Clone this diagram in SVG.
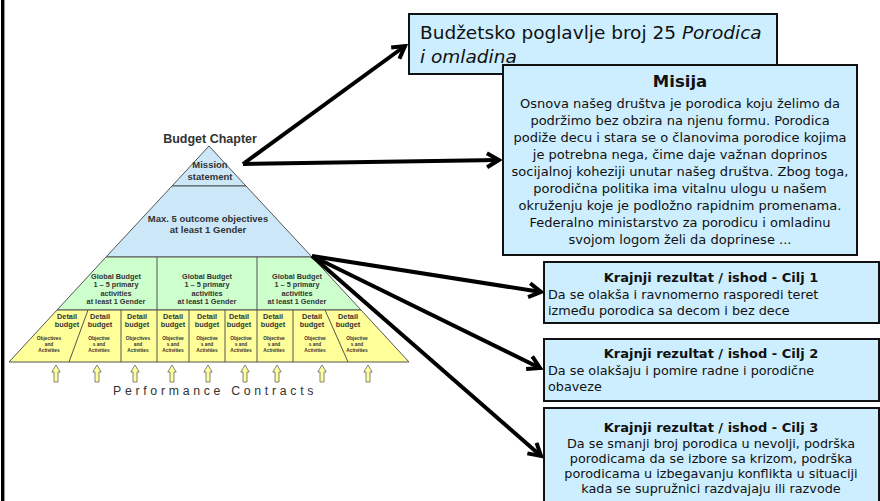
<svg xmlns="http://www.w3.org/2000/svg" xmlns:xlink="http://www.w3.org/1999/xlink" width="880" height="501" viewBox="0 0 880 501">
<style>
.pl{stroke:#555;stroke-width:1;stroke-linejoin:round}
.pt{font-family:"Liberation Sans",Arial,sans-serif;font-weight:bold;fill:#333;text-anchor:middle}
.t95{font-size:9.5px}
.t72{font-size:7.3px}
.t5{font-size:4.8px}
.box{fill:#CCEEFF;stroke:#111;stroke-width:2}
.dv{font-family:"DejaVu Sans",Verdana,sans-serif;fill:#111}
.body{font-size:12.8px}
.mb{font-size:13px}
.c{text-anchor:middle}
.ttl{font-size:13px;font-weight:bold;text-anchor:middle}
.con{stroke:#000;stroke-width:4;fill:none;marker-end:url(#ah)}
.ua{fill:#FFFF99;stroke:#666;stroke-width:0.8}
</style>
<defs>
<marker id="ah" markerUnits="userSpaceOnUse" markerWidth="18" markerHeight="18" viewBox="0 0 18 18" refX="15" refY="9" orient="auto">
<path d="M3,2 L15,9 L3,16" fill="none" stroke="#000" stroke-width="4"/>
</marker>
<path id="uarrow" d="M-2,17 V7 H-4.2 L0,0 L4.2,7 H2 V17 Z"/>
</defs>
<rect x="0" y="0" width="880" height="501" fill="#fff"/>
<rect x="1" y="0" width="3" height="501" fill="#000"/>
<rect x="4" y="0" width="1" height="501" fill="#999"/>

<g id="pyramid">
<text class="pt" x="210" y="143" style="font-size:12.5px">Budget Chapter</text>
<polygon class="pl" points="209,146 246,186 172,186" fill="#CCE8F8"/>
<polygon class="pl" points="172,186 246,186 312,257 106,257" fill="#CCE8F8"/>
<polygon class="pl" points="106,257 312,257 361,310 57,310" fill="#CCFFCC"/>
<polygon class="pl" points="57,310 361,310 409,362 9,362" fill="#FFFF99"/>
<g class="pl" fill="none">
<line x1="157" y1="257" x2="157" y2="310"/>
<line x1="257" y1="257" x2="257" y2="310"/>
<line x1="88" y1="310" x2="69" y2="362"/>
<line x1="121" y1="310" x2="121" y2="362"/>
<line x1="157" y1="310" x2="157" y2="362"/>
<line x1="189" y1="310" x2="189" y2="362"/>
<line x1="225" y1="310" x2="225" y2="362"/>
<line x1="257" y1="310" x2="257" y2="362"/>
<line x1="293" y1="310" x2="293" y2="362"/>
<line x1="325" y1="310" x2="348" y2="362"/>
</g>
<text class="pt t95" x="210" y="168">Mission</text>
<text class="pt t95" x="210" y="180">statement</text>
<text class="pt t95" x="208" y="222">Max. 5 outcome objectives</text>
<text class="pt t95" x="208" y="233">at least 1 Gender</text>
<g class="pt t72">
<text x="116" y="279">Global Budget</text><text x="116" y="287">1 – 5 primary</text><text x="116" y="296">activities</text><text x="116" y="304">at least 1 Gender</text>
<text x="207" y="279">Global Budget</text><text x="207" y="287">1 – 5 primary</text><text x="207" y="296">activities</text><text x="207" y="304">at least 1 Gender</text>
<text x="297" y="279">Global Budget</text><text x="297" y="287">1 – 5 primary</text><text x="297" y="296">activities</text><text x="297" y="304">at least 1 Gender</text>
</g>
<g class="pt t72">
<text x="67" y="319">Detail</text><text x="67" y="327">budget</text>
<text x="100" y="319">Detail</text><text x="100" y="327">budget</text>
<text x="137" y="319">Detail</text><text x="137" y="327">budget</text>
<text x="173" y="319">Detail</text><text x="173" y="327">budget</text>
<text x="207" y="319">Detail</text><text x="207" y="327">budget</text>
<text x="239" y="319">Detail</text><text x="239" y="327">budget</text>
<text x="273" y="319">Detail</text><text x="273" y="327">budget</text>
<text x="312" y="319">Detail</text><text x="312" y="327">budget</text>
<text x="348" y="319">Detail</text><text x="348" y="327">budget</text>
</g>
<g class="pt t5">
<text x="49" y="340">Objectives</text><text x="49" y="346">and</text><text x="49" y="352">Activities</text>
<text x="99" y="340">Objective</text><text x="99" y="346">s and</text><text x="99" y="352">Activities</text>
<text x="138" y="340">Objectives</text><text x="138" y="346">and</text><text x="138" y="352">Activities</text>
<text x="173" y="340">Objective</text><text x="173" y="346">s and</text><text x="173" y="352">Activities</text>
<text x="207" y="340">Objective</text><text x="207" y="346">s and</text><text x="207" y="352">Activities</text>
<text x="241" y="340">Objective</text><text x="241" y="346">s and</text><text x="241" y="352">Activities</text>
<text x="274" y="340">Objective</text><text x="274" y="346">s and</text><text x="274" y="352">Activities</text>
<text x="315" y="340">Objective</text><text x="315" y="346">s and</text><text x="315" y="352">Activities</text>
<text x="357" y="340">Objective</text><text x="357" y="346">s and</text><text x="357" y="352">Activities</text>
</g>
<g class="ua">
<use xlink:href="#uarrow" x="56" y="365"/>
<use xlink:href="#uarrow" x="97" y="365"/>
<use xlink:href="#uarrow" x="135" y="365"/>
<use xlink:href="#uarrow" x="172" y="365"/>
<use xlink:href="#uarrow" x="208" y="365"/>
<use xlink:href="#uarrow" x="245" y="365"/>
<use xlink:href="#uarrow" x="277" y="365"/>
<use xlink:href="#uarrow" x="322" y="365"/>
<use xlink:href="#uarrow" x="368" y="365"/>
</g>
<text x="113" y="395" style="font-family:'Liberation Sans',Arial,sans-serif;font-size:12.3px;letter-spacing:3.7px;fill:#333">Performance Contracts</text>
</g>

<g id="connectors">
<line class="con" x1="243" y1="164" x2="405" y2="46"/>
<line class="con" x1="243" y1="164" x2="499" y2="160"/>
<line class="con" x1="312" y1="256" x2="541" y2="292"/>
<line class="con" x1="312" y1="256" x2="540" y2="368"/>
<line class="con" x1="312" y1="256" x2="541" y2="456"/>
</g>

<g id="chapter">
<rect class="box" x="409" y="14" width="368" height="60"/>
<text class="dv" x="420" y="39" style="font-size:18.5px">Budžetsko poglavlje broj 25 <tspan font-style="italic">Porodica</tspan></text>
<text class="dv" x="420" y="63" style="font-size:18.5px;font-style:italic">i omladina</text>
</g>

<g id="misija">
<rect class="box" x="503" y="65" width="354" height="190"/>
<text class="dv c" x="680" y="87" style="font-size:16.5px;font-weight:bold">Misija</text>
<g class="dv mb c">
<text x="680" y="108">Osnova našeg društva je porodica koju želimo da</text>
<text x="680" y="125">podržimo bez obzira na njenu formu. Porodica</text>
<text x="680" y="142">podiže decu i stara se o članovima porodice kojima</text>
<text x="680" y="159">je potrebna nega, čime daje važnan doprinos</text>
<text x="680" y="176">socijalnoj koheziji unutar našeg društva. Zbog toga,</text>
<text x="680" y="193">porodična politika ima vitalnu ulogu u našem</text>
<text x="680" y="210">okruženju koje je podložno rapidnim promenama.</text>
<text x="680" y="227">Federalno ministarstvo za porodicu i omladinu</text>
<text x="680" y="244">svojom logom želi da doprinese ...</text>
</g>
</g>

<g id="cilj1">
<rect class="box" x="544" y="262" width="335" height="61"/>
<text class="dv ttl" x="711" y="282">Krajnji rezultat / ishod - Cilj 1</text>
<text class="dv body" x="548" y="299">Da se olakša i ravnomerno rasporedi teret</text>
<text class="dv body" x="548" y="315">između porodica sa decom i bez dece</text>
</g>

<g id="cilj2">
<rect class="box" x="544" y="339" width="335" height="62"/>
<text class="dv ttl" x="711" y="358">Krajnji rezultat / ishod - Cilj 2</text>
<text class="dv body" x="548" y="375">Da se olakšaju i pomire radne i porodične</text>
<text class="dv body" x="548" y="391">obaveze</text>
</g>

<g id="cilj3">
<rect class="box" x="544" y="408" width="335" height="100"/>
<text class="dv ttl" x="711" y="432">Krajnji rezultat / ishod - Cilj 3</text>
<g class="dv body c">
<text x="711" y="448">Da se smanji broj porodica u nevolji, podrška</text>
<text x="711" y="463">porodicama da se izbore sa krizom, podrška</text>
<text x="711" y="478">porodicama u izbegavanju konflikta u situaciji</text>
<text x="711" y="493">kada se supružnici razdvajaju ili razvode</text>
</g>
</g>
</svg>
